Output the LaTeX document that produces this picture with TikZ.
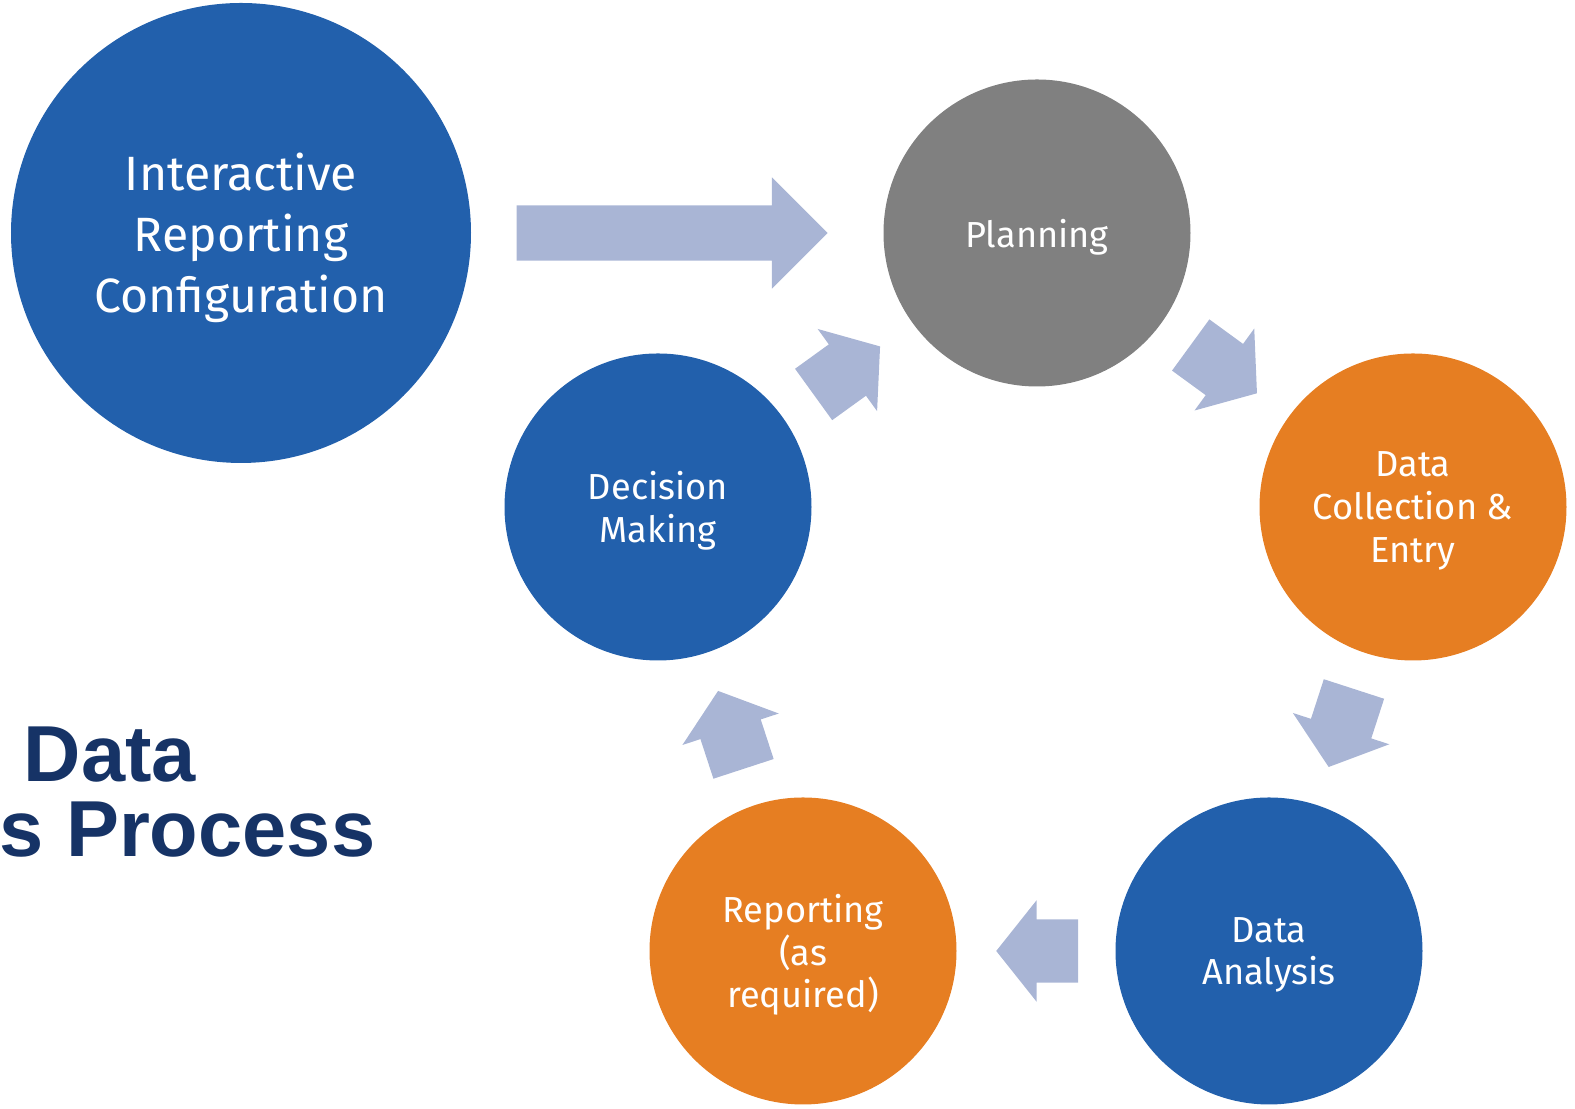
\documentclass[tikz,border=0pt]{standalone}
\usepackage{fontspec}
\setsansfont{Fira Sans}
\newfontfamily\titlefont{Liberation Sans}
\usetikzlibrary{shapes.arrows}

\definecolor{stepblue}{RGB}{34,96,172}
\definecolor{steporange}{RGB}{230,126,34}
\definecolor{stepgrey}{RGB}{128,128,128}
\definecolor{flowblue}{RGB}{169,181,213}
\definecolor{titlenavy}{RGB}{22,51,102}

\begin{document}
\begin{tikzpicture}

  \useasboundingbox (0,0) rectangle (15.75,11.09);
  \clip (0,0) rectangle (15.75,11.09);

  % node styles
  \tikzstyle{Stage}=[
  shape=circle,
  minimum size=3.07cm,
  inner sep=0pt,
  text=white,
  text depth=0pt,
  align=center,
  font=\sffamily\fontsize{10.3}{12.2}\selectfont]

  \tikzstyle{Hub}=[Stage,minimum size=4.6cm,
  font=\sffamily\fontsize{13.7}{17.4}\selectfont]

  \tikzstyle{Flow}=[
  shape=single arrow,
  fill=flowblue,
  inner xsep=0pt,
  inner ysep=0.31cm,
  sloped,allow upside down,
  anchor=tip,
  minimum height=0.82cm,
  single arrow head extend=0.19cm,
  single arrow tip angle=103]

  \tikzstyle{BigFlow}=[Flow,
  inner ysep=0.27cm,
  minimum height=3.11cm,
  single arrow head extend=0.28cm,
  single arrow tip angle=90]

  \tikzstyle{Title}=[font=\titlefont\bfseries\fontsize{22.6}{21.3}\selectfont,
  text=titlenavy,inner sep=0pt]

  \node[Hub,fill=stepblue]    (IR) at ( 2.41,8.76) {Interactive\\Reporting\\Configuration};
  \node[Stage,fill=stepgrey]  (P)  at (10.37,8.76) {Planning};
  \node[Stage,fill=steporange](DC) at (14.13,6.02) {Data\\Collection \&\\Entry};
  \node[Stage,fill=stepblue]  (DA) at (12.69,1.58) {Data\\Analysis};
  \node[Stage,fill=steporange](R)  at ( 8.03,1.58) {Reporting\\(as\\required)};
  \node[Stage,fill=stepblue]  (DM) at ( 6.58,6.02) {Decision\\Making};

  \node[Title,anchor=base west] (T1) at (0.23,3.27) {Data};
  \node[Title,anchor=base east] (T2) at (3.76,2.52) {s Process};

  \path (IR) -- (P)  node[BigFlow,pos=0.868] (F0) {};
  \path (P)  -- (DC) node[Flow,pos=0.758] (F1) {};
  \path (DC) -- (DA) node[Flow,pos=0.758] (F2) {};
  \path (DA) -- (R)  node[Flow,pos=0.758] (F3) {};
  \path (R)  -- (DM) node[Flow,pos=0.758] (F4) {};
  \path (DM) -- (P)  node[Flow,pos=0.758] (F5) {};

\end{tikzpicture}
\end{document}
